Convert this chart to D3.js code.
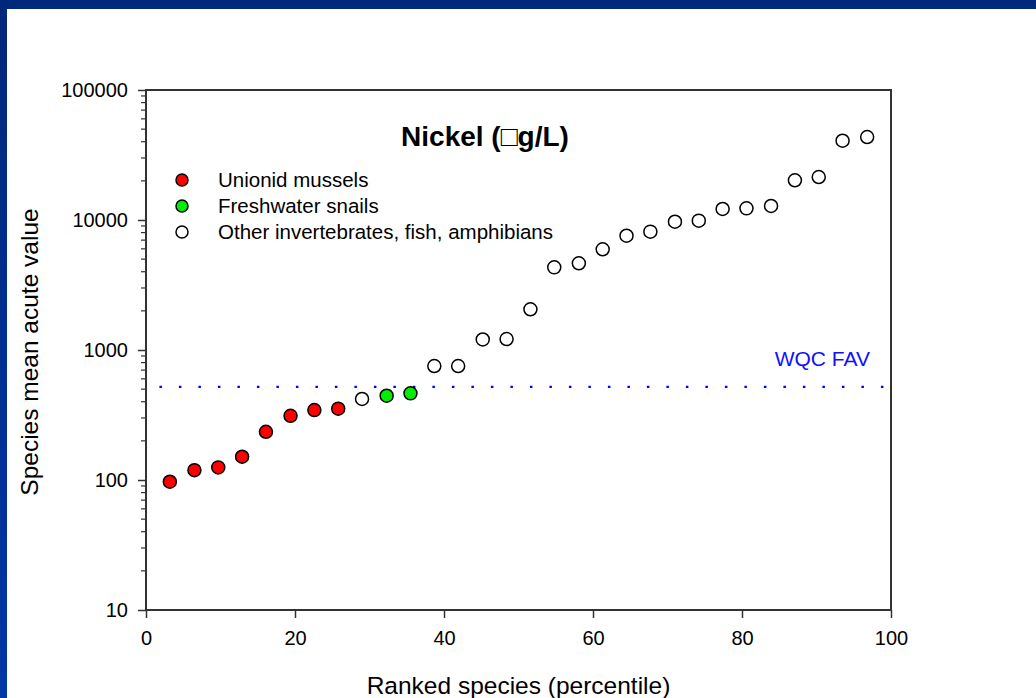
<!DOCTYPE html>
<html>
<head>
<meta charset="utf-8">
<script src="https://cdn.jsdelivr.net/npm/d3@7"></script>
<style>
  body { margin: 0; background: #fff; }
  text { font-family: "Liberation Sans", Arial, sans-serif; fill: #000; }
</style>
</head>
<body>
<div id="chart-area"></div>
<script>
// chart values
const percentiles = [3.2, 6.5, 9.7, 12.9, 16.1, 19.4, 22.6, 25.8, 29.0, 32.3,
    35.5, 38.7, 41.9, 45.2, 48.4, 51.6, 54.8, 58.1, 61.3, 64.5,
    67.7, 71.0, 74.2, 77.4, 80.6, 83.9, 87.1, 90.3, 93.5, 96.8]
const acuteValues = [97, 119, 125, 151, 235, 312, 345, 354, 420, 445,
    464, 753, 753, 1205, 1215, 2056, 4325, 4645, 5955, 7570,
    8130, 9700, 9880, 12160, 12300, 12820, 20200, 21400, 40740, 43480]
const groups = ["U", "U", "U", "U", "U", "U", "U", "U", "O", "S",
    "S", "O", "O", "O", "O", "O", "O", "O", "O", "O",
    "O", "O", "O", "O", "O", "O", "O", "O", "O", "O"]
const groupKeys = ["U", "S", "O"]
const groupLabels = ["Unionid mussels", "Freshwater snails", "Other invertebrates, fish, amphibians"]
const groupColors = ["#ff0000", "#00ee00", "#ffffff"]
const xTicks = [0, 20, 40, 60, 80, 100]
const yTicks = [10, 100, 1000, 10000, 100000]
const favValue = 520

const W = 1036, H = 698
const MARGIN = { LEFT: 146, RIGHT: 145, TOP: 90, BOTTOM: 88 }
const WIDTH = W - MARGIN.LEFT - MARGIN.RIGHT
const HEIGHT = H - MARGIN.TOP - MARGIN.BOTTOM

const svg = d3.select("#chart-area").append("svg")
    .attr("width", W)
    .attr("height", H)

// navy slide frame
const defs = svg.append("defs")
const grad = defs.append("linearGradient").attr("id", "navy")
    .attr("x1", 0).attr("y1", 0).attr("x2", 0).attr("y2", 1)
grad.append("stop").attr("offset", "0%").attr("stop-color", "#00287a")
grad.append("stop").attr("offset", "100%").attr("stop-color", "#0036a6")
svg.append("rect").attr("x", 0).attr("y", 0).attr("width", W).attr("height", 9)
    .attr("fill", "#00297c")
svg.append("rect").attr("x", 0).attr("y", 0).attr("width", 7).attr("height", H)
    .attr("fill", "url(#navy)")

const g = svg.append("g")
    .attr("transform", `translate(${MARGIN.LEFT}, ${MARGIN.TOP})`)

// scales
const x = d3.scaleLinear().domain([0, 100]).range([0, WIDTH])
const y = d3.scaleLog().domain([10, 100000]).range([HEIGHT, 0])

const axisColor = "#333"

// minor y ticks
const minor = []
yTicks.slice(0, -1).forEach(t => { for (let k = 2; k <= 9; k++) minor.push(t * k) })
g.append("g").selectAll("line").data(minor).join("line")
    .attr("x1", -5).attr("x2", 0)
    .attr("y1", d => y(d)).attr("y2", d => y(d))
    .attr("stroke", axisColor).attr("stroke-width", 1.2)

// axes
const yAxis = g.append("g")
    .call(d3.axisLeft(y).tickValues(yTicks).tickFormat(d3.format("d")).tickSize(8).tickPadding(10))
const xAxis = g.append("g")
    .attr("transform", `translate(0, ${HEIGHT})`)
    .call(d3.axisBottom(x).tickValues(xTicks).tickSize(8).tickPadding(11))
;[xAxis, yAxis].forEach(a => {
    a.select(".domain").remove()
    a.selectAll("line").attr("stroke", axisColor).attr("stroke-width", 1.5)
    a.selectAll("text").attr("font-size", "20px").attr("font-family", "Liberation Sans, Arial, sans-serif").attr("fill", "#000")
})
xAxis.selectAll("text").attr("dy", "0.8em")

// frame
g.append("rect")
    .attr("width", WIDTH).attr("height", HEIGHT)
    .attr("fill", "none").attr("stroke", axisColor).attr("stroke-width", 2)

// WQC FAV line
g.append("line")
    .attr("x1", x(1.8)).attr("x2", WIDTH)
    .attr("y1", y(favValue)).attr("y2", y(favValue))
    .attr("stroke", "#0000ff").attr("stroke-width", 2.4)
    .attr("stroke-dasharray", "2.5 17")
g.append("text")
    .attr("x", WIDTH - 21).attr("y", y(favValue) - 21)
    .attr("text-anchor", "end").attr("font-size", "21px")
    .style("fill", "#1010ff")
    .text("WQC FAV")

// points
const points = percentiles.map((p, i) => ({ p: p, v: acuteValues[i], grp: groups[i] }))
g.append("g").selectAll("circle").data(points).join("circle")
    .attr("cx", d => x(d.p))
    .attr("cy", d => y(d.v))
    .attr("r", 6.5)
    .attr("fill", d => groupColors[groupKeys.indexOf(d.grp)])
    .attr("stroke", "#000").attr("stroke-width", 1.5)

// title
g.append("text")
    .attr("x", 339).attr("y", 56)
    .attr("text-anchor", "middle")
    .attr("font-size", "28px").attr("font-weight", "bold")
    .text("Nickel (\u25A1g/L)")

// legend
const legend = g.append("g").attr("transform", "translate(36, 90)")
groupKeys.forEach((k, i) => {
    legend.append("circle")
        .attr("cx", 0).attr("cy", i * 26)
        .attr("r", 6)
        .attr("fill", groupColors[i]).attr("stroke", "#000").attr("stroke-width", 1.5)
    legend.append("text")
        .attr("x", 36).attr("y", i * 26)
        .attr("dy", "0.35em")
        .attr("font-size", "20.5px")
        .text(groupLabels[i])
})

// axis labels
g.append("text")
    .attr("x", WIDTH / 2).attr("y", HEIGHT + 84)
    .attr("text-anchor", "middle").attr("font-size", "24.5px")
    .text("Ranked species (percentile)")
g.append("text")
    .attr("transform", "rotate(-90)")
    .attr("x", -(352 - MARGIN.TOP)).attr("y", -MARGIN.LEFT + 38)
    .attr("text-anchor", "middle").attr("font-size", "24.5px")
    .text("Species mean acute value")
</script>
</body>
</html>
